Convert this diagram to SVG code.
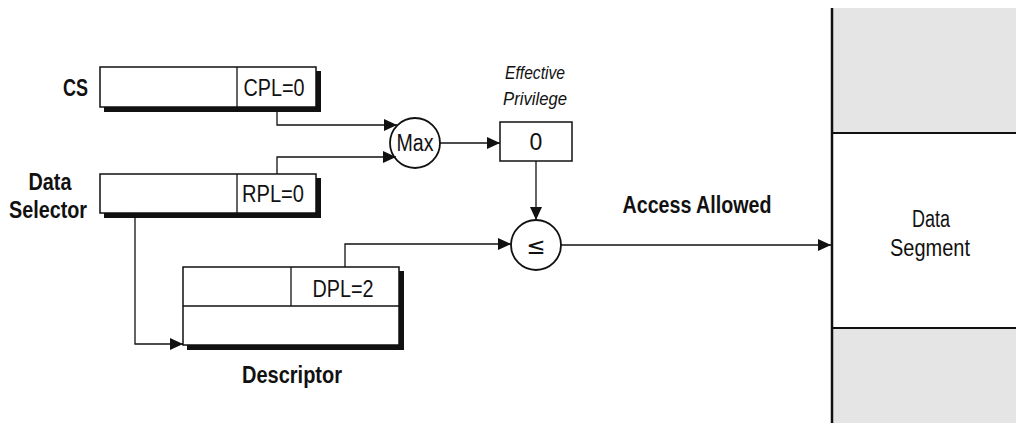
<svg xmlns="http://www.w3.org/2000/svg" width="1016" height="423" viewBox="0 0 1016 423">
<style>
.t{font-family:"Liberation Sans",Arial,sans-serif;fill:#111}
.b{font-weight:bold;font-size:23px}
.r{font-size:23px}
.i{font-style:italic;font-size:18px}
.sym{font-family:"DejaVu Sans",sans-serif;font-size:23px;fill:#111}
.box{fill:#fff;stroke:#111;stroke-width:1.5}
.sh{fill:#111}
.ln{fill:none;stroke:#111;stroke-width:1.3}
.circ{fill:#fff;stroke:#111;stroke-width:1.8}
</style>
<defs>
<marker id="ah" markerUnits="userSpaceOnUse" markerWidth="14" markerHeight="12" refX="13" refY="6" orient="auto">
<path d="M0,0 L13,6 L0,12 Z" fill="#111"/>
</marker>
</defs>
<rect width="1016" height="423" fill="#fff"/>

<g id="data-segment">
<rect x="832" y="8" width="184" height="415" fill="#e5e5e5"/>
<rect x="832" y="133" width="184" height="195" fill="#fff"/>
<line x1="832" y1="133" x2="1016" y2="133" stroke="#111" stroke-width="2"/>
<line x1="832" y1="328" x2="1016" y2="328" stroke="#111" stroke-width="2"/>
<line x1="832" y1="8" x2="832" y2="423" stroke="#111" stroke-width="2.5"/>
<text class="t r" x="931" y="227" text-anchor="middle" textLength="38" lengthAdjust="spacingAndGlyphs">Data</text>
<text class="t r" x="930" y="256" text-anchor="middle" textLength="80" lengthAdjust="spacingAndGlyphs">Segment</text>
</g>

<g id="cs">
<rect class="sh" x="104" y="71" width="217" height="41"/>
<rect class="box" x="100" y="67" width="216" height="40"/>
<line x1="237" y1="67" x2="237" y2="107" stroke="#111" stroke-width="1.3"/>
<text class="t r" x="274" y="96" text-anchor="middle" textLength="61" lengthAdjust="spacingAndGlyphs">CPL=0</text>
<text class="t b" x="88" y="96" text-anchor="end" textLength="25" lengthAdjust="spacingAndGlyphs">CS</text>
</g>

<g id="data-selector">
<rect class="sh" x="104" y="178" width="217" height="40"/>
<rect class="box" x="100" y="174" width="216" height="39"/>
<line x1="237" y1="174" x2="237" y2="213" stroke="#111" stroke-width="1.3"/>
<text class="t r" x="273" y="202" text-anchor="middle" textLength="62" lengthAdjust="spacingAndGlyphs">RPL=0</text>
<text class="t b" x="50" y="190" text-anchor="middle" textLength="43" lengthAdjust="spacingAndGlyphs">Data</text>
<text class="t b" x="48" y="218" text-anchor="middle" textLength="78" lengthAdjust="spacingAndGlyphs">Selector</text>
</g>

<g id="max">
<circle class="circ" cx="415" cy="143" r="25"/>
<text class="t r" x="415" y="151" text-anchor="middle" textLength="37" lengthAdjust="spacingAndGlyphs">Max</text>
</g>

<g id="effective-privilege">
<text class="t i" x="535" y="79" text-anchor="middle" textLength="60" lengthAdjust="spacingAndGlyphs">Effective</text>
<text class="t i" x="535" y="105" text-anchor="middle" textLength="64" lengthAdjust="spacingAndGlyphs">Privilege</text>
<rect class="box" x="500" y="122" width="72" height="39" stroke-width="2.2"/>
<text class="t r" x="536" y="150" text-anchor="middle" font-size="21">0</text>
</g>

<g id="compare">
<circle class="circ" cx="536" cy="245" r="25"/>
<text class="sym" x="536" y="254" text-anchor="middle">≤</text>
</g>

<g id="descriptor">
<rect class="sh" x="187" y="271" width="217" height="79"/>
<rect class="box" x="183" y="267" width="216" height="78"/>
<line x1="183" y1="306" x2="399" y2="306" stroke="#111" stroke-width="1.3"/>
<line x1="291" y1="267" x2="291" y2="306" stroke="#111" stroke-width="1.3"/>
<text class="t r" x="343" y="297" text-anchor="middle" textLength="61" lengthAdjust="spacingAndGlyphs">DPL=2</text>
<text class="t b" x="292" y="383" text-anchor="middle" textLength="100" lengthAdjust="spacingAndGlyphs">Descriptor</text>
</g>

<g id="access-label">
<text class="t b" x="697" y="213" text-anchor="middle" textLength="149" lengthAdjust="spacingAndGlyphs">Access Allowed</text>
</g>

<g id="connectors">
<polyline class="ln" points="277,107 277,125 397,125" marker-end="url(#ah)"/>
<polyline class="ln" points="277,174 277,157 396,157" marker-end="url(#ah)"/>
<line class="ln" x1="440" y1="143" x2="500" y2="143" marker-end="url(#ah)"/>
<line class="ln" x1="536" y1="161" x2="536" y2="220" marker-end="url(#ah)"/>
<polyline class="ln" points="345,267 345,244 511,244" marker-end="url(#ah)"/>
<line class="ln" x1="561" y1="245" x2="831" y2="245" marker-end="url(#ah)"/>
<polyline class="ln" points="135,213 135,344 183,344" marker-end="url(#ah)"/>
</g>
</svg>
